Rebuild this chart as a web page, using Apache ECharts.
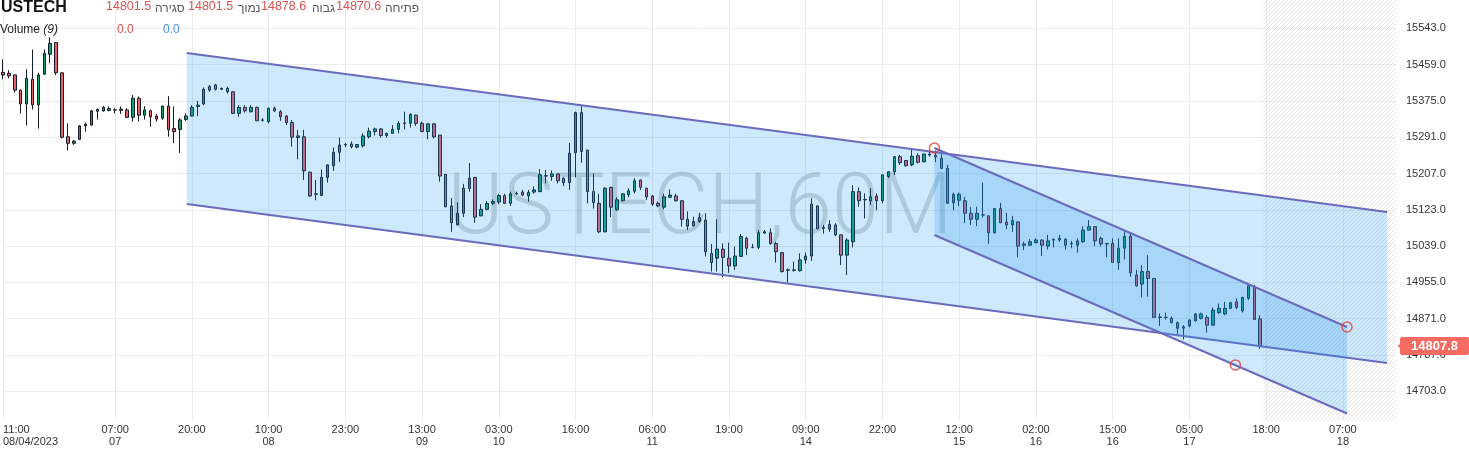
<!DOCTYPE html>
<html>
<head>
<meta charset="utf-8">
<script src="https://cdn.jsdelivr.net/npm/echarts@6/dist/echarts.min.js"></script>
<style>
html,body{margin:0;padding:0;background:#fff;}
#chart{width:1469px;height:449px;}
</style>
</head>
<body>
<div id="chart"></div>
<script>
// ---- data ----
const symbolName = 'USTECH';
const watermarkText = 'USTECH,60M';
const headerLabels = ['סגירה', 'נמוך', 'גבוה', 'פתיחה'];
const headerValues = [14801.5, 14801.5, 14878.6, 14870.6];
const volumeValues = [0.0, 0.0];
const lastPrice = 14807.8;
const barCount = 237;
const tickIndex = [0, 19, 32, 45, 58, 71, 84, 97, 110, 123, 136, 149, 162, 175, 188, 201, 214, 227];
const tickLabels = ['11:00\n08/04/2023', '07:00\n07', '20:00', '10:00\n08', '23:00', '13:00\n09', '03:00\n10', '16:00', '06:00\n11', '19:00', '09:00\n14', '22:00', '12:00\n15', '02:00\n16', '15:00\n16', '05:00\n17', '18:00', '07:00\n18'];
const priceTicks = [14703, 14787, 14871, 14955, 15039, 15123, 15207, 15291, 15375, 15459, 15543];
const opens = [15441,15439,15435,15400,15368,15425,15366,15437,15483,15510,15440,15292,15277,15286,15317,15319,15351,15352,15353,15354,15356,15354,15337,15381,15342,15352,15340,15335,15363,15311,15309,15332,15340,15362,15368,15408,15412,15404,15404,15396,15346,15360,15350,15360,15331,15327,15358,15350,15340,15325,15290,15292,15210,15159,15156,15198,15225,15256,15273,15275,15268,15271,15292,15304,15310,15295,15300,15309,15323,15323,15342,15323,15304,15322,15296,15205,15132,15088,15115,15172,15198,15109,15124,15138,15141,15156,15138,15160,15164,15155,15164,15165,15201,15200,15206,15196,15186,15255,15348,15261,15165,15138,15072,15175,15123,15144,15158,15166,15192,15173,15155,15138,15129,15152,15155,15144,15101,15086,15096,15099,15022,15011,15032,15011,14993,15015,15057,15036,15036,15069,15070,15045,15024,14983,14984,14982,15007,15016,15132,15080,15078,15088,15065,15018,15049,15165,15146,15144,15155,15144,15200,15211,15246,15237,15227,15248,15234,15250,15249,15242,15219,15139,15145,15144,15115,15101,15111,15109,15070,15126,15095,15088,15095,15044,15041,15047,15053,15039,15053,15053,15055,15044,15041,15049,15076,15084,15057,15045,15045,15001,15034,15062,14972,14951,14980,14964,14875,14874,14872,14862,14849,14854,14866,14872,14874,14856,14885,14882,14895,14910,14889,14918,14945,14870.6];
const closes = [15435,15433,15400,15368,15427,15366,15435,15485,15508,15440,15291,15277,15282,15317,15321,15352,15355,15360,15357,15354.5,15353,15337,15381,15342,15354,15338,15333,15363,15308,15304,15331,15340,15360,15365,15402,15400,15402,15402,15396,15346,15360,15352,15360,15329,15330,15358,15352,15338,15325,15291,15294,15213,15155,15160,15198,15227,15256,15273,15274,15269,15274,15294,15305,15310,15295,15300,15309,15323,15324,15344,15323,15304,15322,15292,15201,15130,15093,15115,15173,15196,15106,15124,15138,15142,15156,15138,15160,15161,15157,15163,15169,15204,15202,15206,15190,15186,15254,15348,15258,15165,15140,15072,15173,15129,15146,15160,15167,15190,15175,15153,15136,15132,15153,15157,15144,15101,15085,15096,15105,15026,15001,15032,15013,14993,15016,15061,15034,15036,15070,15072,15045,15026,14980,14984,14983,15007,15016,15136,15079,15082,15089,15065,15018,15053,15165,15144,15147,15153,15144,15204,15211,15246,15232,15225,15247,15233,15252,15252,15245,15219,15138,15159,15159,15115,15101,15115,15111,15070,15126,15093,15088,15098,15039,15041,15049,15053,15041,15051,15054,15057,15041,15045,15051,15076,15084,15051,15044,15044,15001,15034,15061,14977,14947,14980,14964,14874,14874,14874,14862,14849,14852,14868,14882,14882,14856,14891,14895,14895,14908,14897,14920,14947,14869,14807.8];
const lows = [15425,15427,15394,15346,15318,15355,15311,15435,15462,15435,15288,15260,15273,15284,15304,15318,15332,15350,15351,15346,15345,15335,15327,15327,15332,15315,15327,15331,15292,15277,15254,15329,15339,15340,15365,15396,15399,15400,15392,15345,15338,15348,15348,15329,15327,15323,15349,15329,15319,15269,15240,15192,15153,15145,15155,15186,15213,15234,15268,15265,15265,15267,15288,15295,15290,15290,15299,15300,15309,15313,15317,15303,15286,15288,15188,15129,15072,15087,15106,15165,15093,15108,15122,15134,15136,15136,15132,15158,15155,15142,15160,15164,15184,15190,15184,15178,15169,15198,15232,15138,15126,15069,15071,15106,15121,15142,15152,15161,15169,15146,15132,15129,15124,15150,15142,15084,15076,15084,15093,15015,14980,14980,14967,14977,14984,15014,15018,15034,15032,15067,15042,15001,14978,14954,14980,14980,14998,15005,15078,15068,15072,15062,14995,14972,15036,15130,15103,15134,15122,15138,15196,15203,15227,15223,15224,15230,15233,15246,15233,15217,15137,15122,15132,15092,15088,15085,15105,15044,15068,15092,15078,15072,15013,15030,15039,15045,15016,15031,15036,15049,15031,15034,15024,15047,15075,15039,15038,15013,15000,14984,15008,14968,14945,14920,14922,14873,14854,14869,14860,14835,14823,14851,14864,14869,14839,14854,14882,14879,14893,14893,14885,14914,14869,14801.5];
const highs = [15471,15446,15436,15401,15448,15494,15440,15494,15522,15511,15441,15323,15284,15319,15325,15354,15357,15363,15362,15358,15362,15358,15389,15385,15363,15355,15345,15364,15386,15362,15335,15346,15365,15375,15406,15412,15414,15406,15408,15397,15365,15365,15365,15362,15335,15359,15362,15354,15342,15331,15308,15308,15211,15192,15216,15228,15267,15290,15278,15281,15275,15300,15313,15313,15312,15301,15319,15328,15350,15346,15343,15327,15323,15323,15296,15206,15150,15140,15183,15231,15199,15136,15143,15147,15160,15160,15165,15165,15169,15169,15177,15217,15215,15214,15207,15198,15278,15350,15363,15262,15207,15160,15175,15176,15152,15161,15173,15196,15193,15173,15157,15142,15160,15170,15160,15144,15119,15107,15116,15115,15044,15101,15045,15047,15038,15067,15061,15044,15076,15076,15080,15049,15024,14987,15003,15022,15024,15150,15133,15088,15099,15092,15065,15057,15180,15175,15161,15173,15161,15204,15212,15247,15250,15238,15263,15254,15253,15257,15260,15260,15227,15163,15163,15153,15129,15130,15186,15110,15127,15139,15116,15109,15096,15049,15055,15057,15055,15065,15057,15065,15057,15051,15057,15085,15099,15085,15061,15046,15057,15057,15076,15068,14984,14995,15018,14965,14883,14885,14876,14864,14856,14869,14883,14885,14879,14897,14906,14910,14910,14918,14922,14951,14949,14878.6];
// drawing tools: [x0, top0, bottom0, x1, top1, bottom1] in (bar index, price)
const wideChannel = [31.13, 15485.8, 15136.4, 234.5, 15117.9, 14768.4];
const steepChannel = [157.8, 15265.9, 15064.6, 227.7, 14851.7, 14651.5];
const channelHandles = [[157.8, 15265.9], [227.7, 14851.7], [208.8, 14763.8]];
const futureStart = 213.5;

// ---- build ----
const categories = [];
for (let i = 0; i < barCount; i++) {
  const k = tickIndex.indexOf(i);
  categories.push(k >= 0 ? tickLabels[k] : '');
}
const candleData = opens.map((o, i) => [o, closes[i], lows[i], highs[i]]);

// hatch pattern
const pc = document.createElement('canvas');
pc.width = 4; pc.height = 4;
const pctx = pc.getContext('2d');
pctx.fillStyle = '#e5e5e5';
for (let k = 0; k < 4; k++) pctx.fillRect(k, 3 - k, 1, 1);

const chart = echarts.init(document.getElementById('chart'), null, {renderer: 'canvas'});
const isTick = (idx, val) => val !== '';
const FONT = 'Arial, "Liberation Sans", sans-serif';

function renderChannel(params, api) {
  const a = api.coord([api.value(0), api.value(1)]);
  const b = api.coord([api.value(0), api.value(2)]);
  const c = api.coord([api.value(3), api.value(4)]);
  const d = api.coord([api.value(3), api.value(5)]);
  const ls = {stroke: '#6b6bbd', lineWidth: 2};
  return {type: 'group', children: [
    {type: 'polygon', shape: {points: [a, c, d, b]}, style: {fill: 'rgba(33,150,243,0.22)'}},
    {type: 'line', shape: {x1: a[0], y1: a[1], x2: c[0], y2: c[1]}, style: ls},
    {type: 'line', shape: {x1: b[0], y1: b[1], x2: d[0], y2: d[1]}, style: ls}
  ]};
}

const headerGraphics = [
  {type: 'text', left: 1, top: 0, z: 20, style: {text: symbolName, font: 'bold 16px ' + FONT, fill: '#111'}},
  {type: 'text', left: 106, top: 0, z: 20, style: {text: headerValues[0].toFixed(1), font: '12.5px ' + FONT, fill: '#d9534f'}},
  {type: 'text', left: 155, top: 3, z: 20, style: {text: headerLabels[0], font: '12px ' + FONT, fill: '#555'}},
  {type: 'text', left: 188, top: 0, z: 20, style: {text: headerValues[1].toFixed(1), font: '12.5px ' + FONT, fill: '#d9534f'}},
  {type: 'text', left: 238, top: 3, z: 20, style: {text: headerLabels[1], font: '12px ' + FONT, fill: '#555'}},
  {type: 'text', left: 261, top: 0, z: 20, style: {text: headerValues[2].toFixed(1), font: '12.5px ' + FONT, fill: '#d9534f'}},
  {type: 'text', left: 312, top: 3, z: 20, style: {text: headerLabels[2], font: '12px ' + FONT, fill: '#555'}},
  {type: 'text', left: 336, top: 0, z: 20, style: {text: headerValues[3].toFixed(1), font: '12.5px ' + FONT, fill: '#d9534f'}},
  {type: 'text', left: 385, top: 3, z: 20, style: {text: headerLabels[3], font: '12px ' + FONT, fill: '#555'}},
  {type: 'text', left: 0, top: 24, z: 20, style: {text: '{a|Volume }{b|(9)}', rich: {a: {font: '12px ' + FONT, fill: '#222'}, b: {font: 'italic 12px ' + FONT, fill: '#222'}}}},
  {type: 'text', left: 117, top: 24, z: 20, style: {text: volumeValues[0].toFixed(1), font: '12px ' + FONT, fill: '#d9534f'}},
  {type: 'text', left: 163, top: 24, z: 20, style: {text: volumeValues[1].toFixed(1), font: '12px ' + FONT, fill: '#4a90e2'}},
  {type: 'text', x: 700, y: 212, z: 1, style: {text: watermarkText, font: '300 85px Roboto, ' + FONT, fill: 'rgba(135,150,140,0.36)', align: 'center', verticalAlign: 'middle'}}
];

chart.setOption({
  animation: false,
  backgroundColor: '#fff',
  grid: {left: 1, right: 73, top: 0, bottom: 28, containLabel: false},
  xAxis: [
    {type: 'category', data: categories, boundaryGap: false,
     axisLine: {show: false}, axisTick: {show: false},
     axisLabel: {interval: isTick, color: '#333', fontSize: 11, fontFamily: FONT, lineHeight: 12, margin: 3, alignMinLabel: 'left', hideOverlap: false},
     splitLine: {show: true, interval: isTick, lineStyle: {color: '#ececec', width: 1}}},
    {type: 'value', min: 0, max: barCount - 1, show: false}
  ],
  yAxis: [{type: 'value', position: 'right', min: 14634.2, max: 15608.5, scale: true,
    axisLine: {show: false},
    axisTick: {show: false, customValues: priceTicks},
    axisLabel: {customValues: priceTicks, color: '#333', fontSize: 11, fontFamily: FONT, margin: 10, formatter: v => Number(v).toFixed(1)},
    splitLine: {show: true, lineStyle: {color: '#ececec', width: 1}}}],
  graphic: headerGraphics,
  series: [
    {type: 'custom', name: 'future', xAxisIndex: 1, z: 1, silent: true,
     data: [[futureStart, 15000]],
     renderItem: (params, api) => {
       const cs = params.coordSys;
       const x0 = api.coord([api.value(0), api.value(1)])[0];
       return {type: 'rect', shape: {x: x0, y: cs.y, width: cs.x + cs.width - x0, height: cs.height},
               style: {fill: {image: pc, repeat: 'repeat'}}};
     }},
    {type: 'candlestick', name: symbolName, xAxisIndex: 0, z: 3, barWidth: 3,
     data: candleData,
     itemStyle: {color: '#08a873', color0: '#e5646a', borderColor: '#141b27', borderColor0: '#141b27', borderWidth: 1}},
    {type: 'custom', name: 'channels', xAxisIndex: 1, z: 5, silent: true,
     data: [wideChannel, steepChannel], renderItem: renderChannel},
    {type: 'scatter', name: 'handles', xAxisIndex: 1, z: 6, silent: true,
     data: channelHandles, symbol: 'circle', symbolSize: 10,
     itemStyle: {color: 'rgba(255,255,255,0)', borderColor: '#e53935', borderWidth: 1.4}},
    {type: 'line', name: 'last', xAxisIndex: 1, z: 30, silent: true, clip: false,
     data: [[barCount - 1, lastPrice]], symbol: 'none', lineStyle: {width: 0},
     markPoint: {silent: true, symbol: 'triangle', symbolSize: [8, 5], symbolRotate: 90, symbolOffset: [4, 0],
       itemStyle: {color: '#f56b62'}, label: {show: false},
       data: [{coord: [barCount - 1, lastPrice]}]},
     endLabel: {show: true, distance: 4, formatter: () => lastPrice.toFixed(1),
       backgroundColor: '#f56b62', color: '#fff', fontWeight: 'bold', fontSize: 13, fontFamily: FONT,
       padding: [3, 11, 2, 11], borderRadius: 2}}
  ]
});
</script>
</body>
</html>
